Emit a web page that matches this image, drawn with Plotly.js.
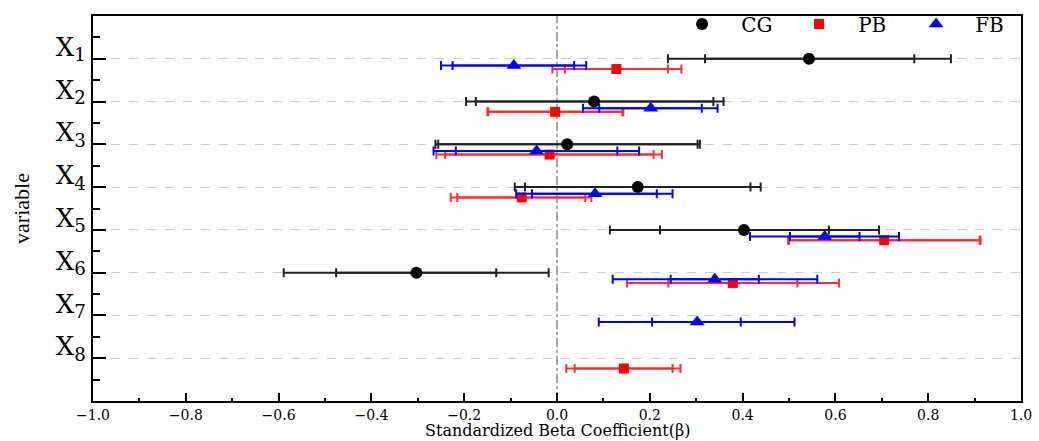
<!DOCTYPE html>
<html>
<head>
<meta charset="utf-8">
<script src="https://cdn.plot.ly/plotly-3.0.1.min.js"></script>
<style>html,body{margin:0;padding:0;background:#fff;}#chart{width:1039px;height:441px;}</style>
</head>
<body>
<div id="chart"></div>
<script>
// ---- data ----
var variables = [1, 2, 3, 4, 5, 6, 7, 8];
var variableLabels = ['X<sub>1</sub>','X<sub>2</sub>','X<sub>3</sub>','X<sub>4</sub>','X<sub>5</sub>','X<sub>6</sub>','X<sub>7</sub>','X<sub>8</sub>'];
var seriesNames = ['CG', 'PB', 'FB'];
var xTitle = 'Standardized Beta Coefficient(β)';
var yTitle = 'variable';

var cgBeta    = [0.543, 0.080, 0.022, 0.174, 0.403, -0.303, null, null];
var cgOuterLo = [0.239, -0.196, -0.262, -0.091, 0.114, -0.589, null, null];
var cgInnerLo = [0.319, -0.175, -0.256, -0.069, 0.222, -0.476, null, null];
var cgInnerHi = [0.770, 0.337, 0.303, 0.417, 0.586, -0.131, null, null];
var cgOuterHi = [0.849, 0.359, 0.308, 0.439, 0.694, -0.018, null, null];

var pbBeta    = [0.128, -0.004, -0.016, -0.076, 0.705, 0.379, null, 0.144];
var pbOuterLo = [-0.010, -0.150, -0.260, -0.229, 0.498, 0.151, null, 0.020];
var pbInnerLo = [0.017, -0.148, -0.241, -0.215, 0.500, 0.240, null, 0.038];
var pbInnerHi = [0.239, 0.141, 0.208, 0.061, 0.911, 0.518, null, 0.249];
var pbOuterHi = [0.268, 0.143, 0.226, 0.074, 0.913, 0.608, null, 0.266];

var fbBeta    = [-0.093, 0.202, -0.044, 0.082, 0.577, 0.340, 0.302, null];
var fbOuterLo = [-0.250, 0.056, -0.266, -0.088, 0.416, 0.120, 0.090, null];
var fbInnerLo = [-0.225, 0.091, -0.218, -0.054, 0.502, 0.245, 0.205, null];
var fbInnerHi = [0.037, 0.312, 0.130, 0.215, 0.652, 0.435, 0.396, null];
var fbOuterHi = [0.063, 0.346, 0.177, 0.249, 0.737, 0.561, 0.512, null];

// ---- styling / layout constants ----
var SERIF = 'DejaVu Serif, Liberation Serif, serif';
var PAD = '\u00a0\u00a0\u00a0';   // gap between legend symbol and label
var styles = {
  CG: {offset: 0.0,  color: '#000000', line: '#222222', symbol: 'circle', size: 12},
  PB: {offset: 0.24, color: '#ff0000', line: '#ff2a2a', symbol: 'square', size: 10},
  FB: {offset: 0.155, color: '#0000ff', line: '#0000ff', symbol: 'triangle-up', size: 13}
};

function diffs(a, b) { return a.map(function (v, i) { return (v === null || b[i] === null) ? null : v - b[i]; }); }

function makeTraces(name, beta, oLo, iLo, iHi, oHi) {
  var s = styles[name];
  var y = variables.map(function (v) { return v + s.offset; });
  var inner = {
    type: 'scatter', mode: 'markers', x: beta, y: y, showlegend: false, hoverinfo: 'skip',
    marker: {opacity: 0, size: 2, color: s.color},
    error_x: {type: 'data', symmetric: false, array: diffs(iHi, beta), arrayminus: diffs(beta, iLo),
              color: s.line, thickness: 2, width: 4.5}
  };
  var outer = {
    type: 'scatter', mode: 'markers', name: PAD + name, x: beta, y: y,
    marker: {symbol: s.symbol, size: s.size, color: s.color},
    error_x: {type: 'data', symmetric: false, array: diffs(oHi, beta), arrayminus: diffs(beta, oLo),
              color: s.line, thickness: 2, width: 4.5}
  };
  return [inner, outer];
}

var data = [].concat(
  makeTraces(seriesNames[0], cgBeta, cgOuterLo, cgInnerLo, cgInnerHi, cgOuterHi),
  makeTraces(seriesNames[1], pbBeta, pbOuterLo, pbInnerLo, pbInnerHi, pbOuterHi),
  makeTraces(seriesNames[2], fbBeta, fbOuterLo, fbInnerLo, fbInnerHi, fbOuterHi)
);

var minorY = variables.map(function (v) { return v - 0.5; }).concat([variables.length + 0.5]);

var layout = {
  width: 1039, height: 441,
  margin: {l: 93, r: 18, t: 16, b: 40, autoexpand: false},
  paper_bgcolor: '#ffffff', plot_bgcolor: '#ffffff',
  font: {family: SERIF, color: '#000'},
  showlegend: true,
  legend: {orientation: 'h', x: 1.013, xanchor: 'right', y: 1.03, yanchor: 'top',
           bgcolor: 'rgba(0,0,0,0)', font: {size: 20, family: SERIF},
           itemwidth: 30, entrywidth: 72, traceorder: 'normal'},
  xaxis: {
    range: [-1, 1], dtick: 0.2, tick0: -1, tickformat: '.1f',
    showgrid: false, zeroline: false,
    showline: true, linecolor: '#000', linewidth: 2, mirror: true,
    ticks: 'inside', ticklen: 8, tickwidth: 2, tickcolor: '#000',
    minor: {dtick: 0.1, tick0: -1, ticks: 'inside', ticklen: 3, tickwidth: 2, tickcolor: '#000', showgrid: false},
    tickfont: {size: 14, family: SERIF},
    automargin: false
  },
  yaxis: {
    range: [9, 0],
    tickmode: 'array', tickvals: variables, ticktext: variableLabels,
    showgrid: true, gridcolor: '#cccccc', griddash: 'dash', gridwidth: 1,
    zeroline: false,
    showline: true, linecolor: '#000', linewidth: 2, mirror: true,
    ticks: 'inside', ticklen: 13, tickwidth: 2, tickcolor: '#000',
    minor: {tickmode: 'array', tickvals: minorY, ticks: 'inside', ticklen: 7, tickwidth: 2, tickcolor: '#000', showgrid: false},
    tickfont: {size: 26, family: SERIF},
    ticklabelshift: 12,
    title: {text: yTitle, font: {size: 22, family: 'Liberation Serif, serif'}, standoff: 20},
    automargin: false
  },
  annotations: [{text: xTitle, xref: 'paper', yref: 'paper', x: 0.5, y: 0, xanchor: 'center', yanchor: 'top',
                 yshift: -19, showarrow: false, borderpad: 0, font: {size: 16, family: SERIF, color: '#000'}}],
  shapes: [{type: 'line', xref: 'x', yref: 'paper', x0: 0, x1: 0, y0: 0, y1: 1,
            line: {color: '#888888', width: 1.5, dash: 'dashdot'}, layer: 'below'}]
};

Plotly.newPlot('chart', data, layout, {displayModeBar: false, staticPlot: true});
</script>
</body>
</html>
